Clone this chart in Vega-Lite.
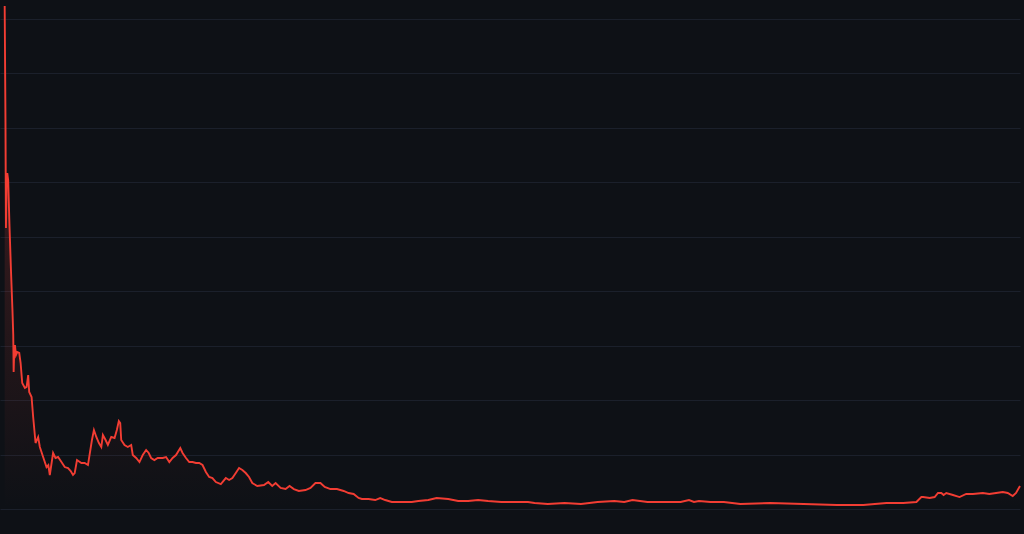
{
  "$schema": "https://vega.github.io/schema/vega-lite/v6.json",
  "width": 1024,
  "height": 534,
  "padding": 0,
  "autosize": {"type": "fit", "contains": "padding"},
  "background": "#0e1116",
  "config": {"view": {"stroke": null}},
  "data": {"values": [
    {"t": 4.7, "v": 92.40}, {"t": 5.5, "v": 71.45}, {"t": 6, "v": 51.62}, {"t": 6.6, "v": 60.99}, {"t": 7.3, "v": 61.72},
    {"t": 8.2, "v": 60.43}, {"t": 9.5, "v": 52.17}, {"t": 11, "v": 43.90}, {"t": 12.5, "v": 36.55}, {"t": 13.3, "v": 31.96},
    {"t": 13.7, "v": 25.17}, {"t": 14.3, "v": 29.21}, {"t": 15, "v": 30.12}, {"t": 16, "v": 28.29}, {"t": 17.3, "v": 28.84},
    {"t": 19.3, "v": 28.66}, {"t": 20.7, "v": 26.82}, {"t": 22.3, "v": 23.14}, {"t": 25, "v": 22.23}, {"t": 26.7, "v": 22.41},
    {"t": 28.3, "v": 24.61}, {"t": 29.3, "v": 21.49}, {"t": 31.7, "v": 20.57}, {"t": 33.3, "v": 16.90}, {"t": 35.7, "v": 12.12},
    {"t": 38.3, "v": 13.23}, {"t": 40, "v": 11.39}, {"t": 43.3, "v": 9.55}, {"t": 46.7, "v": 7.71}, {"t": 48.5, "v": 8.08},
    {"t": 50, "v": 6.25}, {"t": 53.3, "v": 10.29}, {"t": 55.7, "v": 9.37}, {"t": 58.3, "v": 9.55}, {"t": 61.7, "v": 8.63},
    {"t": 65, "v": 7.71}, {"t": 68.3, "v": 7.53}, {"t": 71, "v": 6.98}, {"t": 73.3, "v": 6.25}, {"t": 75, "v": 6.61},
    {"t": 77.3, "v": 9.00}, {"t": 81.7, "v": 8.45}, {"t": 85, "v": 8.45}, {"t": 88.3, "v": 8.08}, {"t": 90.7, "v": 10.84},
    {"t": 92.3, "v": 12.67}, {"t": 94.3, "v": 14.51}, {"t": 96.7, "v": 13.23}, {"t": 99.3, "v": 12.12}, {"t": 101.7, "v": 11.39},
    {"t": 103.3, "v": 13.59}, {"t": 106, "v": 12.67}, {"t": 108.3, "v": 11.76}, {"t": 111.7, "v": 13.23}, {"t": 115, "v": 13.04},
    {"t": 117.3, "v": 14.51}, {"t": 119.3, "v": 16.16}, {"t": 120.7, "v": 15.80}, {"t": 121.7, "v": 12.67}, {"t": 125, "v": 11.76},
    {"t": 128.3, "v": 11.39}, {"t": 131.7, "v": 11.76}, {"t": 133.3, "v": 9.92}, {"t": 136.7, "v": 9.37}, {"t": 140, "v": 8.63},
    {"t": 143.3, "v": 9.92}, {"t": 146.7, "v": 10.84}, {"t": 149.3, "v": 10.29}, {"t": 151.7, "v": 9.37}, {"t": 155, "v": 9.00},
    {"t": 158.3, "v": 9.37}, {"t": 163.3, "v": 9.37}, {"t": 166.7, "v": 9.55}, {"t": 170, "v": 8.63}, {"t": 173.3, "v": 9.37},
    {"t": 176.7, "v": 9.92}, {"t": 181, "v": 11.20}, {"t": 183.3, "v": 10.29}, {"t": 186.7, "v": 9.37}, {"t": 190, "v": 8.63},
    {"t": 193.3, "v": 8.63}, {"t": 196.7, "v": 8.45}, {"t": 200, "v": 8.45}, {"t": 203.3, "v": 8.08}, {"t": 206.7, "v": 6.80},
    {"t": 210, "v": 5.88}, {"t": 213.3, "v": 5.69}, {"t": 216.7, "v": 4.96}, {"t": 221.7, "v": 4.59}, {"t": 226.7, "v": 5.69},
    {"t": 230, "v": 5.33}, {"t": 233.3, "v": 5.69}, {"t": 236.7, "v": 6.61}, {"t": 240, "v": 7.53}, {"t": 243.3, "v": 7.16},
    {"t": 246.7, "v": 6.61}, {"t": 250, "v": 5.88}, {"t": 253.3, "v": 4.78}, {"t": 258.3, "v": 4.22}, {"t": 265, "v": 4.41},
    {"t": 269.3, "v": 4.96}, {"t": 273.3, "v": 4.22}, {"t": 276.7, "v": 4.78}, {"t": 281.7, "v": 3.86}, {"t": 286.7, "v": 3.67},
    {"t": 290.7, "v": 4.22}, {"t": 295, "v": 3.67}, {"t": 300, "v": 3.31}, {"t": 306.7, "v": 3.49}, {"t": 311.7, "v": 3.86},
    {"t": 316.7, "v": 4.78}, {"t": 321.7, "v": 4.78}, {"t": 326, "v": 4.04}, {"t": 331.7, "v": 3.67}, {"t": 338.3, "v": 3.67},
    {"t": 345, "v": 3.31}, {"t": 350, "v": 2.94}, {"t": 355, "v": 2.76}, {"t": 360, "v": 2.02}, {"t": 363.3, "v": 1.84},
    {"t": 370, "v": 1.84}, {"t": 376.7, "v": 1.65}, {"t": 381.7, "v": 2.02}, {"t": 386.7, "v": 1.65}, {"t": 393.3, "v": 1.29},
    {"t": 403.3, "v": 1.29}, {"t": 413.3, "v": 1.29}, {"t": 420, "v": 1.47}, {"t": 430, "v": 1.65}, {"t": 438.3, "v": 2.02},
    {"t": 450, "v": 1.84}, {"t": 460, "v": 1.47}, {"t": 470, "v": 1.47}, {"t": 480, "v": 1.65}, {"t": 490, "v": 1.47},
    {"t": 503.3, "v": 1.29}, {"t": 516.7, "v": 1.29}, {"t": 530, "v": 1.29}, {"t": 536.7, "v": 1.10}, {"t": 550, "v": 0.92},
    {"t": 566.7, "v": 1.10}, {"t": 583.3, "v": 0.92}, {"t": 600, "v": 1.29}, {"t": 616.7, "v": 1.47}, {"t": 626.7, "v": 1.29},
    {"t": 635, "v": 1.65}, {"t": 650, "v": 1.29}, {"t": 656.7, "v": 1.29}, {"t": 673.3, "v": 1.29}, {"t": 683.3, "v": 1.29},
    {"t": 691.7, "v": 1.65}, {"t": 696.7, "v": 1.29}, {"t": 701.7, "v": 1.47}, {"t": 713.3, "v": 1.29}, {"t": 726.7, "v": 1.29},
    {"t": 743.3, "v": 0.92}, {"t": 773.3, "v": 1.10}, {"t": 806.7, "v": 0.92}, {"t": 840, "v": 0.73}, {"t": 866.7, "v": 0.73},
    {"t": 890, "v": 1.10}, {"t": 906.7, "v": 1.10}, {"t": 920, "v": 1.29}, {"t": 925, "v": 2.20}, {"t": 926.7, "v": 2.20},
    {"t": 933.3, "v": 2.02}, {"t": 938.3, "v": 2.20}, {"t": 941.7, "v": 2.94}, {"t": 945, "v": 2.94}, {"t": 947.3, "v": 2.57},
    {"t": 950, "v": 2.94}, {"t": 956.7, "v": 2.57}, {"t": 963.3, "v": 2.20}, {"t": 970, "v": 2.76}, {"t": 976.7, "v": 2.76},
    {"t": 986.7, "v": 2.94}, {"t": 993.3, "v": 2.76}, {"t": 1000, "v": 2.94}, {"t": 1006.7, "v": 3.12}, {"t": 1011.7, "v": 2.94},
    {"t": 1016.7, "v": 2.39}, {"t": 1020, "v": 2.94}, {"t": 1024, "v": 4.22}
  ]},
  "encoding": {
    "x": {"field": "t", "type": "quantitative", "scale": {"domain": [0, 1024], "nice": false, "zero": false}, "axis": null},
    "y": {"field": "v", "type": "quantitative", "scale": {"domain": [-4.59, 93.5], "nice": false, "zero": false},
      "axis": {"values": [0, 10, 20, 30, 40, 50, 60, 70, 80, 90], "grid": true, "gridColor": "#1b202b", "gridWidth": 1, "labels": false, "ticks": false, "domain": false, "title": null}}
  },
  "layer": [
    {"mark": {"type": "area", "interpolate": "linear", "color": {"gradient": "linear", "x1": 0, "y1": 0, "x2": 0, "y2": 1, "stops": [{"offset": 0, "color": "rgba(239,68,60,0.28)"}, {"offset": 1, "color": "rgba(239,68,60,0)"}]}},
      "encoding": {"y2": {"datum": 0}}},
    {"mark": {"type": "line", "color": "#f23d33", "strokeWidth": 1.9, "interpolate": "linear"}}
  ]
}
